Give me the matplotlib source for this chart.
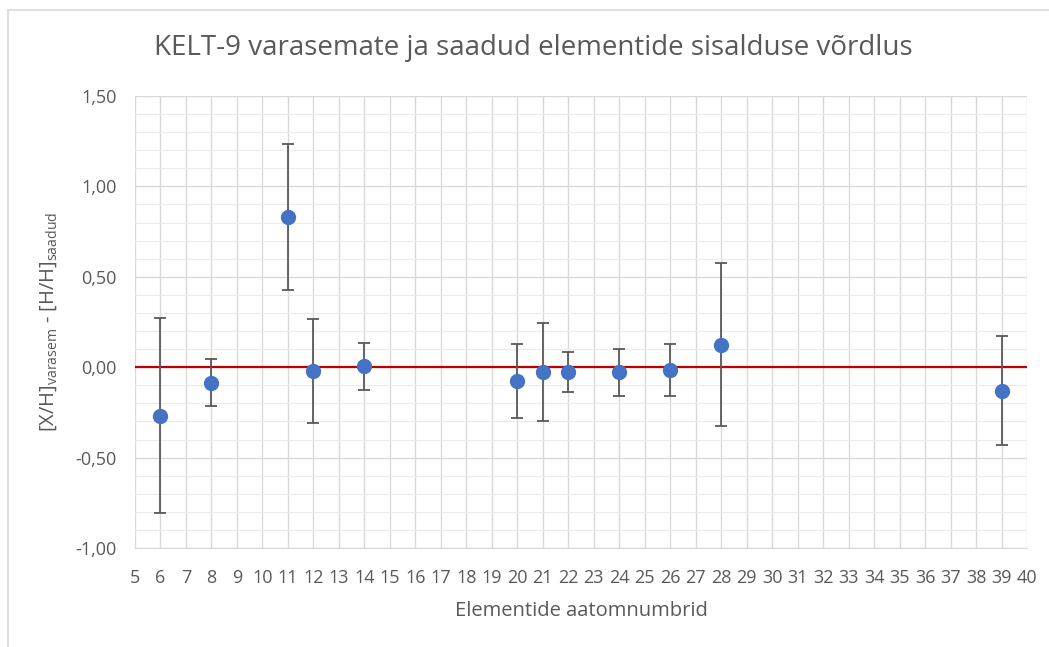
import matplotlib
matplotlib.use("Agg")
import matplotlib.pyplot as plt
from matplotlib.ticker import MultipleLocator, FuncFormatter
from matplotlib.lines import Line2D

# Data
atomic_numbers = [6, 8, 11, 12, 14, 20, 21, 22, 24, 26, 28, 39]
differences = [-0.268, -0.087, 0.830, -0.021, 0.005, -0.076, -0.027, -0.027, -0.027, -0.016, 0.125, -0.130]
errors = [0.54, 0.13, 0.405, 0.286, 0.13, 0.205, 0.27, 0.11, 0.13, 0.142, 0.45, 0.30]

title = "KELT-9 varasemate ja saadud elementide sisalduse võrdlus"
xlabel = "Elementide aatomnumbrid"
ylabel = r"[X/H]$_{\mathregular{varasem}}$ - [H/H]$_{\mathregular{saadud}}$"

plt.rcParams['font.family'] = ['Open Sans', 'DejaVu Sans']
text_color = "#595959"
W, H = 1049, 647

fig = plt.figure(figsize=(W/100, H/100), dpi=100)
ax = fig.add_axes([135/W, 1 - 548/H, (1027-135)/W, (548-96)/H])

ax.set_xlim(5, 40)
ax.set_ylim(-1.0, 1.5)
ax.xaxis.set_major_locator(MultipleLocator(1))
ax.yaxis.set_major_locator(MultipleLocator(0.5))
ax.yaxis.set_minor_locator(MultipleLocator(0.1))
ax.yaxis.set_major_formatter(FuncFormatter(lambda v, p: f"{v:.2f}".replace(".", ",")))

ax.grid(True, which="major", axis="both", color="#d9d9d9", linewidth=1.0, zorder=0)
ax.grid(True, which="minor", axis="y", color="#ebebeb", linewidth=0.8, zorder=0)
ax.set_axisbelow(True)

for s in ["top", "right", "left"]:
    ax.spines[s].set_visible(False)
ax.spines["bottom"].set_color("#d9d9d9")
ax.tick_params(axis="both", which="both", length=0, labelsize=13, colors=text_color)
ax.tick_params(axis="y", pad=13)
ax.tick_params(axis="x", pad=15)

ax.axhline(0, color="#c00000", linewidth=1.6, zorder=2)

ax.errorbar(atomic_numbers, differences, yerr=errors, fmt="o", color="#4472C4",
            markersize=10, ecolor="#595959", elinewidth=1.3, capsize=4.5, capthick=1.3, zorder=3)

fig.text(533/W, 1 - 48/H, title, fontsize=20, color=text_color, ha="center", va="center")
ax.set_xlabel(xlabel, fontsize=14.5, color=text_color, labelpad=10)
ax.set_ylabel(ylabel, fontsize=14.5, color=text_color, labelpad=12)

# chart frame (cropped)
fig.add_artist(Line2D([8/W, 1], [1 - 10/H, 1 - 10/H], color="#d9d9d9", linewidth=1.2, transform=fig.transFigure))
fig.add_artist(Line2D([8/W, 8/W], [0, 1 - 10/H], color="#d9d9d9", linewidth=1.2, transform=fig.transFigure))

fig.savefig("out.png", dpi=100)
